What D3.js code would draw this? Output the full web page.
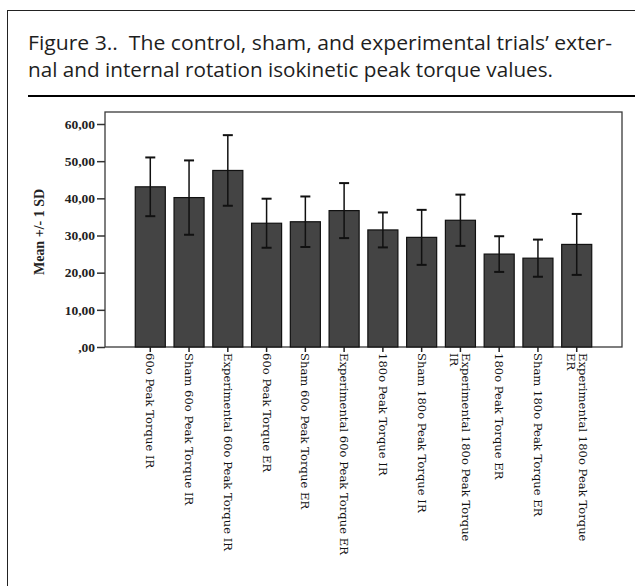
<!DOCTYPE html>
<html>
<head>
<meta charset="utf-8">
<script src="https://cdn.jsdelivr.net/npm/d3@7"></script>
<style>
  html, body { margin: 0; padding: 0; background: #fff; }
  svg { display: block; }
</style>
</head>
<body>
<svg id="fig" width="635" height="586"></svg>
<script>
// Isokinetic peak torque: mean +/- 1 SD per trial condition
const categories = [
  "60o Peak Torque IR",
  "Sham 60o Peak Torque IR",
  "Experimental 60o Peak Torque IR",
  "60o Peak Torque ER",
  "Sham 60o Peak Torque ER",
  "Experimental 60o Peak Torque ER",
  "180o Peak Torque IR",
  "Sham 180o Peak Torque IR",
  "Experimental 180o Peak Torque\nIR",
  "180o Peak Torque ER",
  "Sham 180o Peak Torque ER",
  "Experimental 180o Peak Torque\nER"
];
const means = [43.1, 40.2, 47.5, 33.3, 33.7, 36.7, 31.5, 29.5, 34.1, 25.0, 23.9, 27.6];
const sds   = [7.9, 10.0, 9.5, 6.6, 6.8, 7.4, 4.7, 7.4, 6.9, 4.8, 5.0, 8.2];
const yTicks = [0, 10, 20, 30, 40, 50, 60];
const yTitle = "Mean +/- 1 SD";
const captionLines = [
  "Figure 3..\u00a0 The control, sham, and experimental trials\u2019 exter-",
  "nal and internal rotation isokinetic peak torque values."
];

const rows = categories.map((c, i) => ({ cat: c, mean: means[i], sd: sds[i] }));

const svg = d3.select("#fig");

// outer panel border
svg.append("rect")
  .attr("x", 7.5).attr("y", 10.5)
  .attr("width", 800).attr("height", 800)
  .attr("fill", "none").attr("stroke", "#222").attr("stroke-width", 1);

// caption
const cap = svg.append("g")
  .attr("font-family", "'Open Sans', 'Noto Sans', sans-serif")
  .attr("font-size", 20.5)
  .attr("fill", "#1e1e1e");
cap.selectAll("text").data(captionLines).join("text")
  .attr("x", 28)
  .attr("y", (d, i) => 50 + i * 27)
  .attr("textLength", (d, i) => i === 0 ? 584 : 525)
  .attr("lengthAdjust", "spacingAndGlyphs")
  .text(d => d);

svg.append("line")
  .attr("x1", 28).attr("x2", 635)
  .attr("y1", 96).attr("y2", 96)
  .attr("stroke", "#000").attr("stroke-width", 2.2);

// plot frame geometry
const frame = { left: 105, right: 622, top: 112, bottom: 347 };

const x = d3.scaleBand()
  .domain(categories)
  .range([131, 596])
  .paddingInner(0.225)
  .paddingOuter(0.11);

const y = d3.scaleLinear()
  .domain([0, 60])
  .range([frame.bottom, 124]);

const chart = svg.append("g");

// frame
chart.append("rect")
  .attr("x", frame.left).attr("y", frame.top)
  .attr("width", frame.right - frame.left)
  .attr("height", frame.bottom - frame.top)
  .attr("fill", "none").attr("stroke", "#3a3a3a").attr("stroke-width", 1.3);

// bars
chart.selectAll("rect.bar").data(rows).join("rect")
  .attr("class", "bar")
  .attr("x", d => x(d.cat))
  .attr("y", d => y(d.mean))
  .attr("width", x.bandwidth())
  .attr("height", d => y(0) - y(d.mean))
  .attr("fill", "#444")
  .attr("stroke", "#111")
  .attr("stroke-width", 1.2);

// error bars
const cx = d => x(d.cat) + x.bandwidth() / 2;
const capW = 5;
const eb = chart.append("g").attr("stroke", "#111").attr("stroke-width", 1.5);
eb.selectAll("line.v").data(rows).join("line")
  .attr("class", "v")
  .attr("x1", cx).attr("x2", cx)
  .attr("y1", d => y(d.mean + d.sd)).attr("y2", d => y(d.mean - d.sd));
eb.selectAll("line.hi").data(rows).join("line")
  .attr("class", "hi")
  .attr("x1", d => cx(d) - capW).attr("x2", d => cx(d) + capW)
  .attr("y1", d => y(d.mean + d.sd)).attr("y2", d => y(d.mean + d.sd))
  .attr("stroke-width", 2);
eb.selectAll("line.lo").data(rows).join("line")
  .attr("class", "lo")
  .attr("x1", d => cx(d) - capW).attr("x2", d => cx(d) + capW)
  .attr("y1", d => y(d.mean - d.sd)).attr("y2", d => y(d.mean - d.sd))
  .attr("stroke-width", 2);

// y axis
const yAxis = chart.append("g")
  .attr("transform", `translate(${frame.left},0)`)
  .call(d3.axisLeft(y)
    .tickValues(yTicks)
    .tickSize(8)
    .tickPadding(2)
    .tickFormat(d => d === 0 ? ",00" : d.toFixed(2).replace(".", ",")));
yAxis.select(".domain").remove();
yAxis.selectAll(".tick line").attr("stroke", "#333").attr("stroke-width", 1.5);
yAxis.selectAll(".tick text")
  .attr("font-family", "'Liberation Serif', 'Times New Roman', serif")
  .attr("font-weight", "bold")
  .attr("font-size", 13.5)
  .attr("fill", "#222");

// x axis
const xAxis = chart.append("g")
  .attr("transform", `translate(0,${frame.bottom})`)
  .call(d3.axisBottom(x).tickSize(5).tickFormat(""));
xAxis.select(".domain").remove();
xAxis.selectAll(".tick line").attr("stroke", "#222").attr("stroke-width", 1.5);

const lineH = 12;
const xl = chart.append("g")
  .attr("font-family", "'DejaVu Serif', serif")
  .attr("font-size", 11.6)
  .attr("fill", "#111");
rows.forEach(d => {
  const lines = d.cat.split("\n");
  const t = xl.append("text")
    .attr("transform", `translate(${cx(d)},${frame.bottom + 6}) rotate(90)`)
    .attr("text-anchor", "start");
  lines.forEach((ln, i) => {
    t.append("tspan")
      .attr("x", 0)
      .attr("y", (i - (lines.length - 1) / 2) * lineH)
      .attr("dy", "0.35em")
      .text(ln);
  });
});

// y axis title
svg.append("text")
  .attr("transform", `translate(44,232) rotate(-90)`)
  .attr("text-anchor", "middle")
  .attr("font-family", "'Liberation Serif', 'Times New Roman', serif")
  .attr("font-weight", "bold")
  .attr("font-size", 14)
  .attr("fill", "#222")
  .text(yTitle);
</script>
</body>
</html>
